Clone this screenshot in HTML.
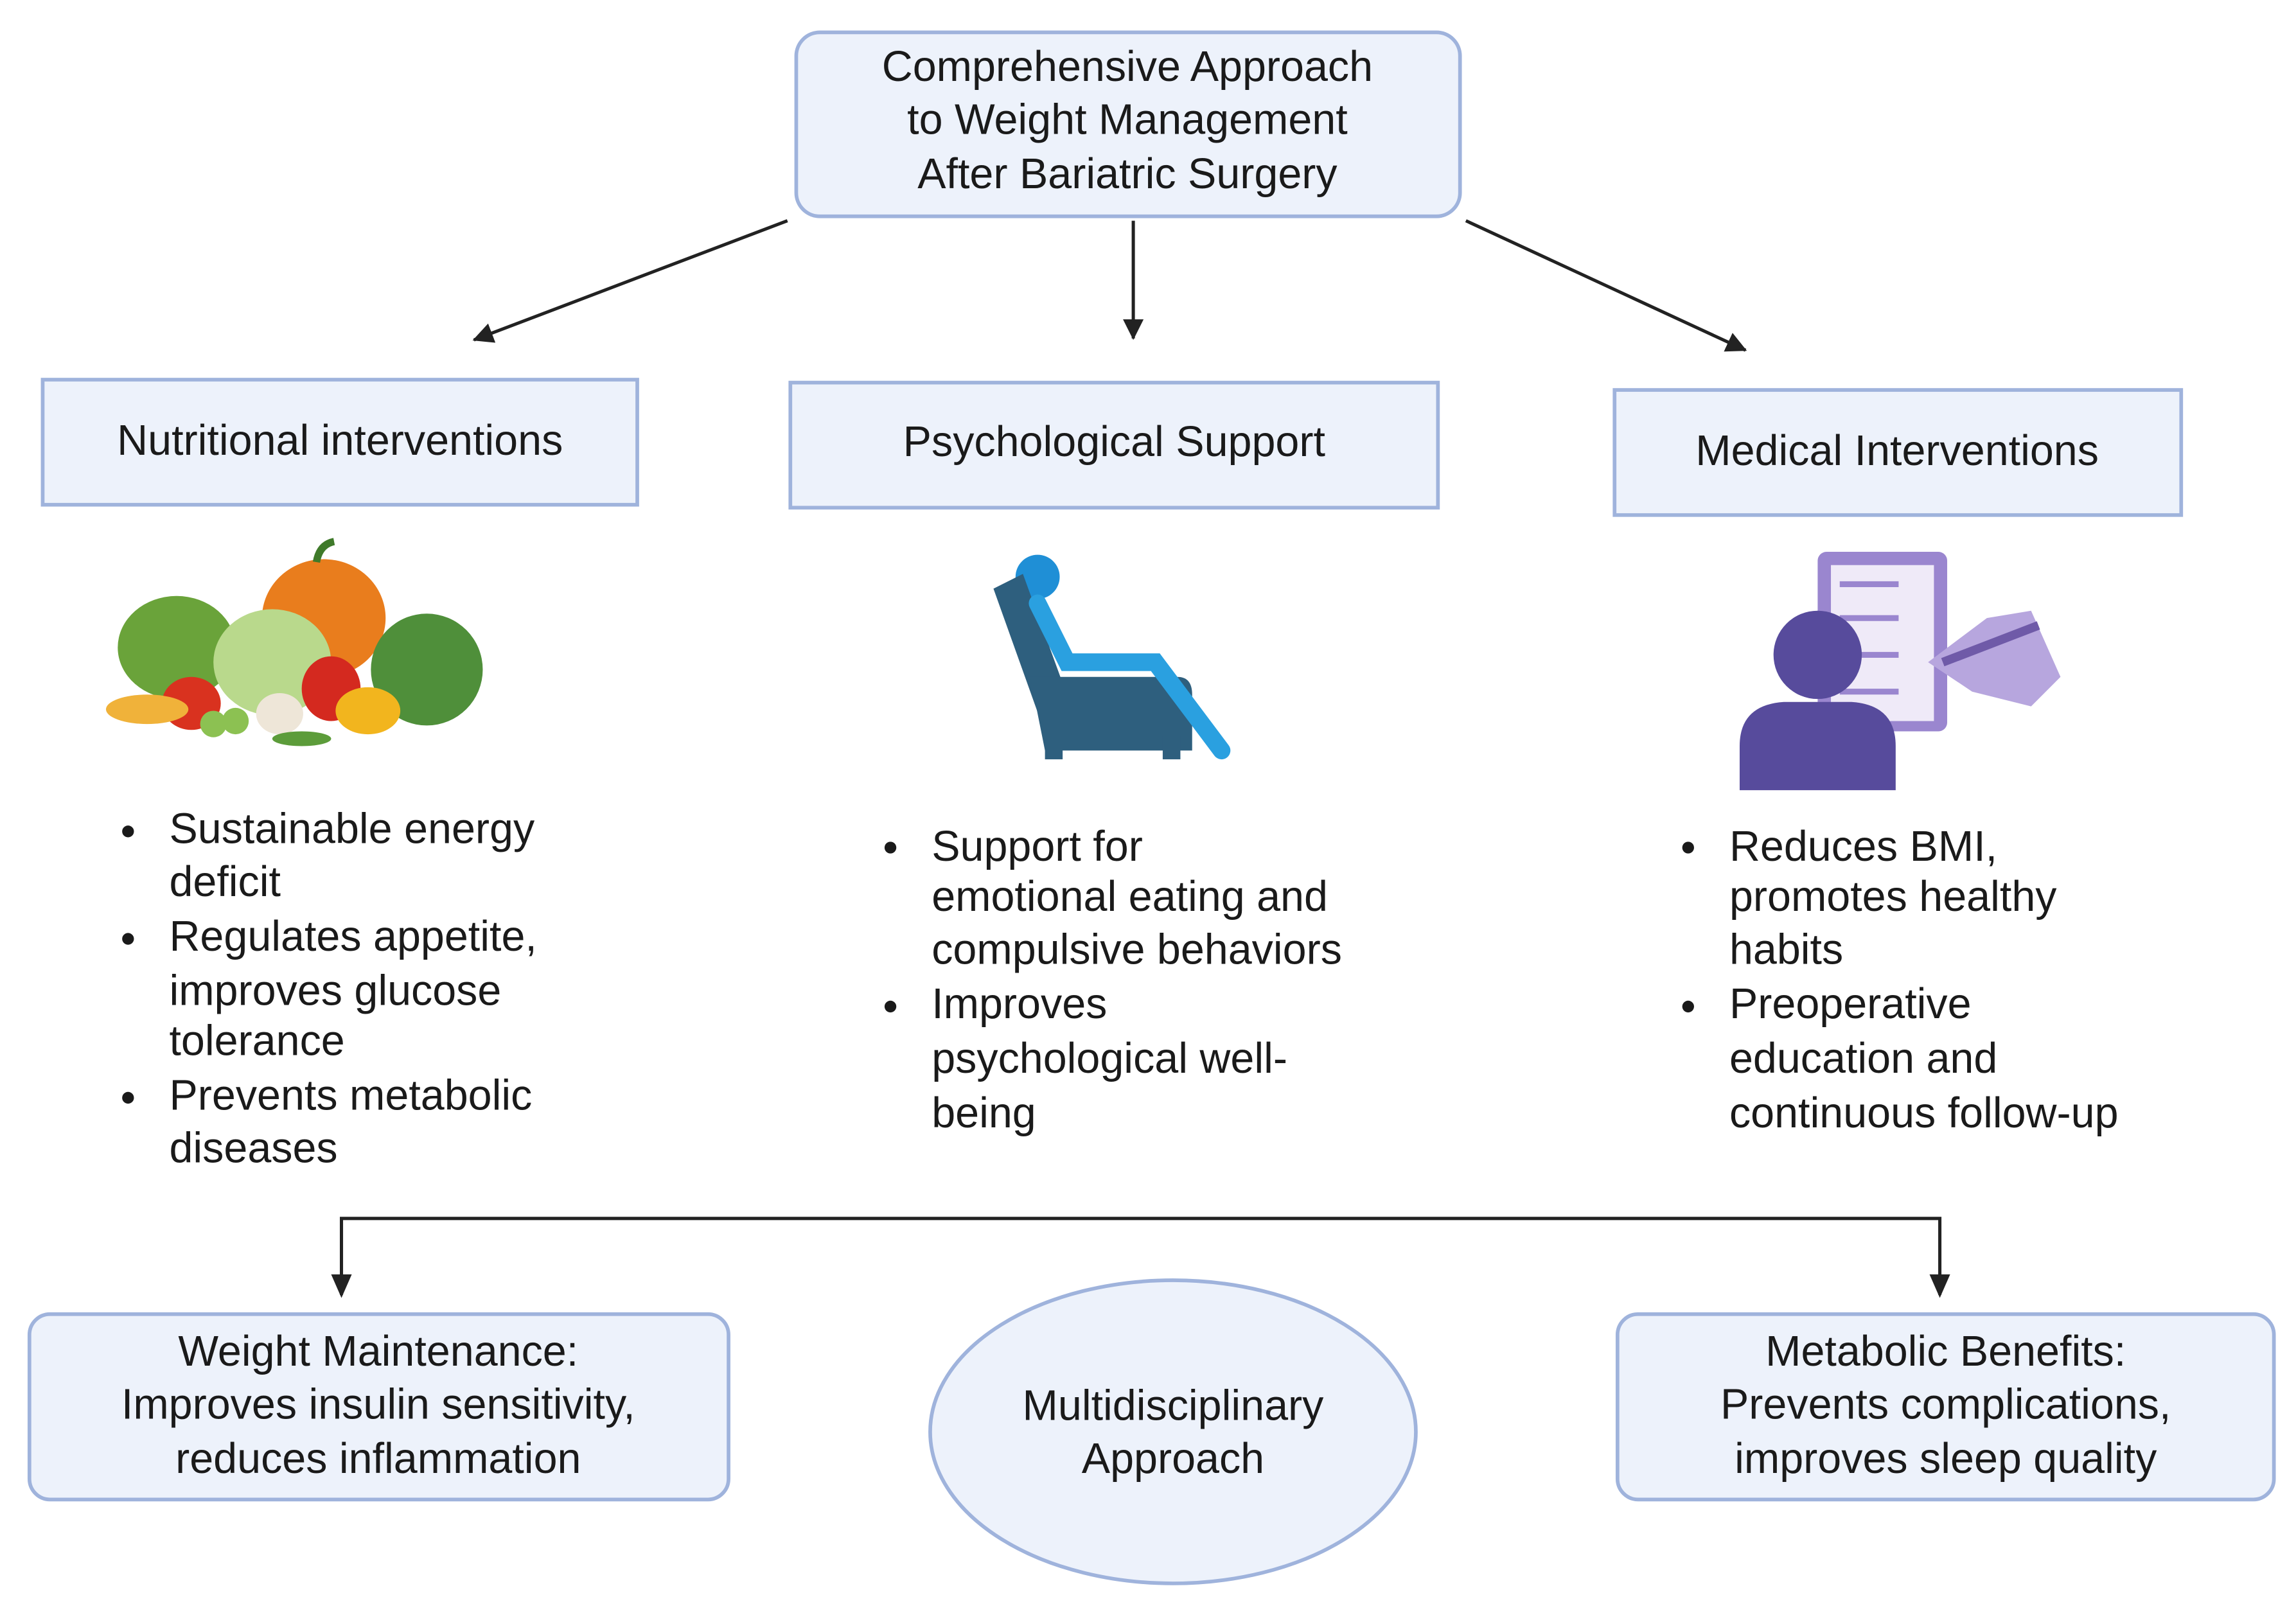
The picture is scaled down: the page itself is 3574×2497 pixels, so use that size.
<!DOCTYPE html>
<html><head><meta charset="utf-8"><style>
html,body{margin:0;padding:0;background:#fff}
svg{display:block}
text{font-family:"Liberation Sans",sans-serif;fill:#1a1a1a}
</style></head><body>
<svg width="3574" height="2497" viewBox="0 0 1560 1090" preserveAspectRatio="none" xmlns="http://www.w3.org/2000/svg">
<defs><marker id="a" markerWidth="10" markerHeight="10" refX="9" refY="5" orient="auto" markerUnits="userSpaceOnUse"><path d="M0,0 L10,5 L0,10 z" fill="#222"/></marker>
<marker id="b" markerWidth="14" markerHeight="14" refX="13" refY="7" orient="auto" markerUnits="userSpaceOnUse"><path d="M0,0 L14,7 L0,14 z" fill="#222"/></marker></defs>
<rect width="1560" height="1090" fill="#fff"/>
<rect x="541" y="22" width="451" height="125" rx="16" fill="#edf2fb" stroke="#9fb3dc" stroke-width="2.5"/>
<g font-size="29" text-anchor="middle"><text x="766" y="55">Comprehensive Approach</text><text x="766" y="91">to Weight Management</text><text x="766" y="128">After Bariatric Surgery</text></g>
<g stroke="#222" stroke-width="2.2"><line x1="535" y1="150" x2="322" y2="231" marker-end="url(#b)"/><line x1="770" y1="150" x2="770" y2="230" marker-end="url(#b)"/><line x1="996" y1="150" x2="1186" y2="238" marker-end="url(#b)"/></g>
<g fill="#edf2fb" stroke="#9fb3dc" stroke-width="2.5"><rect x="29" y="258" width="404" height="85"/><rect x="537" y="260" width="440" height="85"/><rect x="1097" y="265" width="385" height="85"/></g>
<g font-size="29" text-anchor="middle"><text x="231" y="309">Nutritional interventions</text><text x="757" y="310">Psychological Support</text><text x="1289" y="316">Medical Interventions</text></g>
<!-- veggies -->
<g><ellipse cx="220" cy="420" rx="42" ry="40" fill="#e97d1d"/><path d="M215 382 q2 -12 12 -14" stroke="#3f7a2a" stroke-width="5" fill="none"/>
<ellipse cx="120" cy="440" rx="40" ry="35" fill="#6aa33a"/><ellipse cx="290" cy="455" rx="38" ry="38" fill="#4f8f3a"/>
<ellipse cx="185" cy="450" rx="40" ry="36" fill="#b9d98c"/><ellipse cx="225" cy="468" rx="20" ry="22" fill="#d4291f"/>
<ellipse cx="130" cy="478" rx="20" ry="18" fill="#d9321f"/><ellipse cx="250" cy="483" rx="22" ry="16" fill="#f2b51e"/>
<ellipse cx="100" cy="482" rx="28" ry="10" fill="#f0b23a"/><ellipse cx="190" cy="485" rx="16" ry="14" fill="#eee6d8"/>
<circle cx="145" cy="492" r="9" fill="#8cc152"/><circle cx="160" cy="490" r="9" fill="#8cc152"/><ellipse cx="205" cy="502" rx="20" ry="5" fill="#5c9c3a"/></g>
<!-- chair -->
<g><circle cx="705" cy="392" r="15" fill="#1f8fd6"/><path d="M675 400 l20 -10 l40 110 l-20 12 z" fill="#2e5f7e"/>
<path d="M700 460 h100 q10 0 10 12 v38 h-100 z" fill="#2e5f7e"/><rect x="710" y="500" width="12" height="16" fill="#2e5f7e"/><rect x="790" y="500" width="12" height="16" fill="#2e5f7e"/>
<path d="M705 410 l20 40 h60 l45 60" stroke="#2aa0e0" stroke-width="12" fill="none" stroke-linecap="round"/></g>
<!-- doctor -->
<g><rect x="1235" y="375" width="88" height="122" rx="6" fill="#9a86cf"/><rect x="1244" y="384" width="70" height="106" fill="#efeaf8"/>
<g stroke="#9a86cf" stroke-width="4"><line x1="1250" y1="397" x2="1290" y2="397"/><line x1="1250" y1="420" x2="1290" y2="420"/><line x1="1250" y1="445" x2="1290" y2="445"/><line x1="1250" y1="470" x2="1290" y2="470"/></g>
<path d="M1310 450 l40 -30 l30 -5 l20 45 l-20 20 l-40 -10 z" fill="#b7a6de"/><line x1="1320" y1="450" x2="1385" y2="425" stroke="#6f5aa8" stroke-width="6"/>
<circle cx="1235" cy="445" r="30" fill="#574b9c"/><path d="M1182 537 v-30 q0 -28 30 -30 h46 q30 2 30 30 v30 z" fill="#574b9c"/></g>
<!-- bullets -->
<g font-size="29">
<g fill="#1a1a1a"><circle cx="87" cy="565" r="4"/><circle cx="87" cy="638" r="4"/><circle cx="87" cy="746" r="4"/>
<circle cx="605" cy="576" r="4"/><circle cx="605" cy="684" r="4"/><circle cx="1147" cy="576" r="4"/><circle cx="1147" cy="684" r="4"/></g>
<text x="115" y="573">Sustainable energy</text><text x="115" y="609">deficit</text><text x="115" y="646">Regulates appetite,</text><text x="115" y="683">improves glucose</text><text x="115" y="717">tolerance</text><text x="115" y="754">Prevents metabolic</text><text x="115" y="790">diseases</text>
<text x="633" y="585">Support for</text><text x="633" y="619">emotional eating and</text><text x="633" y="655">compulsive behaviors</text><text x="633" y="692">Improves</text><text x="633" y="729">psychological well-</text><text x="633" y="766">being</text>
<text x="1175" y="585">Reduces BMI,</text><text x="1175" y="619">promotes healthy</text><text x="1175" y="655">habits</text><text x="1175" y="692">Preoperative</text><text x="1175" y="729">education and</text><text x="1175" y="766">continuous follow-up</text>
</g>
<g stroke="#222" stroke-width="2.2" fill="none"><path d="M232 880 V828 H1318 V880" /></g>
<path d="M225 866 L232 882 L239 866 z" fill="#222"/><path d="M1311 866 L1318 882 L1325 866 z" fill="#222"/>
<g fill="#edf2fb" stroke="#9fb3dc" stroke-width="2.5"><rect x="20" y="893" width="475" height="126" rx="14"/><rect x="1099" y="893" width="446" height="126" rx="14"/><ellipse cx="797" cy="973" rx="165" ry="103"/></g>
<g font-size="29" text-anchor="middle"><text x="257" y="928">Weight Maintenance:</text><text x="257" y="964">Improves insulin sensitivity,</text><text x="257" y="1001">reduces inflammation</text>
<text x="1322" y="928">Metabolic Benefits:</text><text x="1322" y="964">Prevents complications,</text><text x="1322" y="1001">improves sleep quality</text>
<text x="797" y="965">Multidisciplinary</text><text x="797" y="1001">Approach</text></g>
</svg>
</body></html>
